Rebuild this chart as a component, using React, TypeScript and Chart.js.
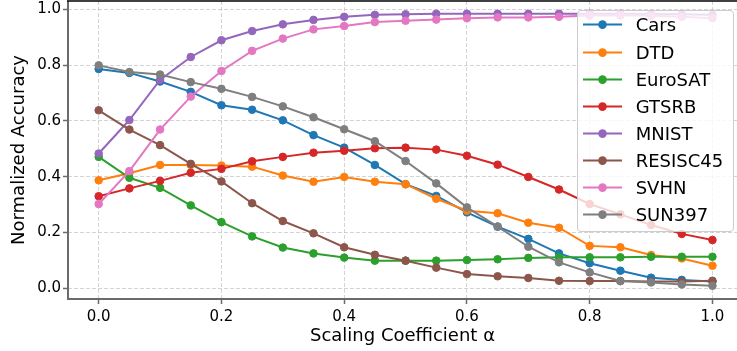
import React, { useEffect, useRef } from 'react';
import { Chart, registerables } from 'chart.js';

Chart.register(...registerables);

const alphas = [0, 0.05, 0.1, 0.15, 0.2, 0.25, 0.3, 0.35, 0.4, 0.45, 0.5, 0.55, 0.6, 0.65, 0.7, 0.75, 0.8, 0.85, 0.9, 0.95, 1.0];

const cars = [0.786, 0.772, 0.741, 0.704, 0.656, 0.640, 0.602, 0.549, 0.504, 0.442, 0.373, 0.331, 0.272, 0.221, 0.177, 0.125, 0.090, 0.063, 0.038, 0.030, 0.024];
const dtd = [0.387, 0.412, 0.442, 0.442, 0.440, 0.436, 0.404, 0.382, 0.399, 0.382, 0.373, 0.321, 0.278, 0.269, 0.235, 0.217, 0.152, 0.147, 0.119, 0.107, 0.081];
const eurosat = [0.471, 0.396, 0.360, 0.297, 0.237, 0.186, 0.146, 0.125, 0.110, 0.099, 0.099, 0.099, 0.101, 0.104, 0.109, 0.111, 0.111, 0.111, 0.113, 0.113, 0.113];
const gtsrb = [0.330, 0.358, 0.385, 0.414, 0.428, 0.455, 0.471, 0.486, 0.493, 0.502, 0.504, 0.497, 0.475, 0.443, 0.399, 0.354, 0.302, 0.265, 0.227, 0.195, 0.173];
const mnist = [0.483, 0.603, 0.747, 0.829, 0.889, 0.922, 0.946, 0.962, 0.973, 0.980, 0.982, 0.984, 0.984, 0.984, 0.984, 0.984, 0.984, 0.984, 0.983, 0.982, 0.980];
const resisc45 = [0.638, 0.569, 0.513, 0.446, 0.383, 0.305, 0.241, 0.197, 0.147, 0.120, 0.099, 0.074, 0.051, 0.043, 0.037, 0.027, 0.026, 0.026, 0.024, 0.024, 0.027];
const svhn = [0.302, 0.420, 0.569, 0.687, 0.779, 0.851, 0.895, 0.928, 0.940, 0.954, 0.959, 0.963, 0.968, 0.971, 0.971, 0.973, 0.978, 0.978, 0.977, 0.973, 0.968];
const sun397 = [0.799, 0.775, 0.766, 0.739, 0.715, 0.686, 0.652, 0.613, 0.570, 0.527, 0.456, 0.376, 0.290, 0.221, 0.149, 0.093, 0.057, 0.026, 0.021, 0.014, 0.009];

const seriesNames = ['Cars', 'DTD', 'EuroSAT', 'GTSRB', 'MNIST', 'RESISC45', 'SVHN', 'SUN397'];
const seriesValues = [cars, dtd, eurosat, gtsrb, mnist, resisc45, svhn, sun397];
const seriesColors = ['#1f77b4', '#ff7f0e', '#2ca02c', '#d62728', '#9467bd', '#8c564b', '#e377c2', '#7f7f7f'];

const xTicks = [0, 0.2, 0.4, 0.6, 0.8, 1.0];
const yTicks = [0, 0.2, 0.4, 0.6, 0.8, 1.0];

const xTitle = 'Scaling Coefficient α';
const yTitle = 'Normalized Accuracy';

const FONT = 'DejaVu Sans';

const spinesPlugin = {
  id: 'spines',
  afterDatasetsDraw(chart: any) {
    const { ctx, chartArea } = chart;
    const { left, right, top, bottom } = chartArea;
    ctx.save();
    ctx.setLineDash([]);
    ctx.lineCap = 'butt';
    ctx.strokeStyle = '#6b6b6b';
    ctx.lineWidth = 2;
    ctx.beginPath();
    ctx.moveTo(left, top);
    ctx.lineTo(left, bottom + 1);
    ctx.moveTo(left - 1, bottom);
    ctx.lineTo(right, bottom);
    ctx.stroke();
    ctx.strokeStyle = '#000000';
    ctx.lineWidth = 1.5;
    ctx.beginPath();
    ctx.moveTo(left - 1, top);
    ctx.lineTo(right, top);
    ctx.stroke();
    ctx.restore();
  },
};

export default function App() {
  const canvasRef = useRef<HTMLCanvasElement | null>(null);

  useEffect(() => {
    document.body.style.margin = '0';
    const canvas = canvasRef.current;
    if (!canvas) return;

    const datasets = seriesNames.map((name, i) => ({
      label: name,
      data: alphas.map((a, j) => ({ x: a, y: seriesValues[i][j] })),
      borderColor: seriesColors[i],
      backgroundColor: seriesColors[i],
      pointBackgroundColor: seriesColors[i],
      pointBorderColor: seriesColors[i],
      borderWidth: 2,
      pointRadius: 3.8,
      pointBorderWidth: 1,
      tension: 0,
      fill: false,
      order: seriesNames.length - i,
    }));

    const gridCommon = {
      color: 'rgba(176,176,176,0.55)',
      lineWidth: 1,
      tickLength: 5,
      tickColor: '#6b6b6b',
      tickWidth: 1.5,
    };

    const chart = new Chart(canvas, {
      type: 'line',
      data: { datasets },
      plugins: [spinesPlugin],
      options: {
        animation: false,
        responsive: false,
        maintainAspectRatio: false,
        layout: { autoPadding: false, padding: { top: 1, left: 0, right: 0, bottom: 0 } },
        plugins: {
          legend: { display: false },
          tooltip: { enabled: false },
        },
        scales: {
          x: {
            type: 'linear',
            min: -0.05,
            max: 1.04,
            afterBuildTicks: (s: any) => {
              s.ticks = xTicks.map((v) => ({ value: v }));
            },
            afterFit: (s: any) => {
              s.height = 52;
              s.paddingLeft = 0;
              s.paddingRight = 0;
            },
            ticks: {
              autoSkip: false,
              maxRotation: 0,
              padding: 4.5,
              color: '#000',
              font: { family: FONT, size: 15 },
              callback: (v: any) => Number(v).toFixed(1),
            },
            grid: gridCommon,
            border: { display: false, dash: [4, 2] },
            title: {
              display: true,
              text: xTitle,
              color: '#000',
              font: { family: FONT, size: 18 },
              padding: { top: 0, bottom: 3.5 },
            },
          },
          y: {
            type: 'linear',
            min: -0.0384,
            max: 1.0297,
            afterBuildTicks: (s: any) => {
              s.ticks = yTicks.map((v) => ({ value: v }));
            },
            afterFit: (s: any) => {
              s.width = 68;
              s.paddingTop = 0;
              s.paddingBottom = 0;
            },
            ticks: {
              autoSkip: false,
              padding: 2,
              color: '#000',
              font: { family: FONT, size: 15 },
              callback: (v: any) => Number(v).toFixed(1),
            },
            grid: gridCommon,
            border: { display: false, dash: [4, 2] },
            title: {
              display: true,
              text: yTitle,
              color: '#000',
              font: { family: FONT, size: 18 },
              padding: { top: 8.9, bottom: 0 },
            },
          },
        },
      },
    } as any);

    return () => {
      chart.destroy();
    };
  }, []);

  const rowCenters = seriesNames.map((_, i) => 25 + 27.14 * i);

  return (
    <div style={{ position: 'relative', width: 737, height: 351, overflow: 'hidden' }}>
      <canvas ref={canvasRef} width={737} height={351} style={{ position: 'absolute', left: 0, top: 0, width: 737, height: 351 }} />
      <div
        style={{
          position: 'absolute',
          left: 577,
          top: 9.5,
          width: 156.5,
          height: 222.5,
          boxSizing: 'border-box',
          border: '1px solid #cccccc',
          borderRadius: 4,
          background: 'rgba(255,255,255,0.8)',
        }}
      />
      {seriesNames.map((name, i) => (
        <div
          key={name}
          style={{
            position: 'absolute',
            left: 583,
            top: rowCenters[i] - 11.6,
            height: 24,
            width: 150,
          }}
        >
          <svg width={40} height={24} style={{ position: 'absolute', left: 0, top: 0 }}>
            <line x1={0} y1={11.6} x2={39} y2={11.6} stroke={seriesColors[i]} strokeWidth={2} />
            <circle cx={19.5} cy={11.6} r={4.3} fill={seriesColors[i]} />
          </svg>
          <span
            style={{
              position: 'absolute',
              left: 52.7,
              top: 0,
              lineHeight: '24px',
              fontFamily: FONT,
              fontSize: 18,
              color: '#000',
              whiteSpace: 'nowrap',
            }}
          >
            {name}
          </span>
        </div>
      ))}
    </div>
  );
}
